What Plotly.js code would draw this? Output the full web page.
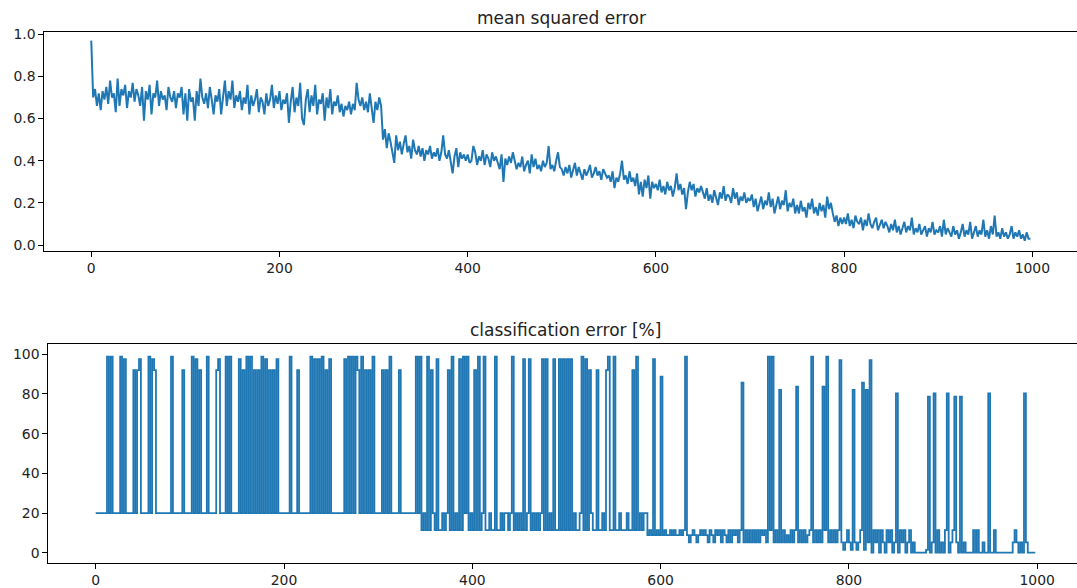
<!DOCTYPE html>
<html><head><meta charset="utf-8">
<script src="https://cdn.plot.ly/plotly-3.0.1.min.js"></script>
<style>html,body{margin:0;padding:0;background:#fff;}#chart{width:1077px;height:588px;}</style>
</head><body><div id="chart"></div>
<script>
// iteration index of first sample and spacing between samples
const stepStart = 0;
const stepSize = 2;

// mean squared error, one value every 2 iterations (0..998)
const mseValues = [
  0.97,0.70,0.74,0.66,0.72,0.64,0.73,0.69,0.75,0.67,0.78,0.70,0.72,0.63,0.79,0.66,0.74,0.71,0.76,0.65,0.73,0.70,0.77,0.68,0.74,
  0.71,0.66,0.75,0.59,0.73,0.69,0.76,0.62,0.72,0.70,0.78,0.66,0.73,0.69,0.71,0.64,0.75,0.70,0.68,0.73,0.65,0.72,0.70,0.75,0.62,
  0.72,0.59,0.74,0.68,0.70,0.59,0.73,0.66,0.79,0.70,0.67,0.72,0.65,0.75,0.69,0.62,0.71,0.68,0.74,0.62,0.70,0.78,0.66,0.73,0.69,
  0.78,0.65,0.71,0.68,0.73,0.64,0.70,0.67,0.76,0.62,0.71,0.66,0.69,0.74,0.63,0.70,0.68,0.62,0.72,0.66,0.69,0.76,0.65,0.71,0.67,
  0.73,0.64,0.69,0.67,0.72,0.58,0.68,0.75,0.63,0.70,0.66,0.77,0.60,0.57,0.69,0.74,0.63,0.71,0.66,0.76,0.62,0.69,0.67,0.72,0.59,
  0.70,0.65,0.74,0.62,0.68,0.66,0.71,0.63,0.67,0.61,0.66,0.64,0.68,0.62,0.67,0.64,0.77,0.69,0.66,0.70,0.64,0.68,0.63,0.72,0.66,
  0.58,0.68,0.64,0.70,0.66,0.50,0.55,0.46,0.53,0.49,0.44,0.39,0.52,0.45,0.49,0.43,0.48,0.52,0.44,0.47,0.41,0.50,0.45,0.43,0.47,
  0.42,0.46,0.40,0.45,0.43,0.47,0.41,0.44,0.42,0.46,0.40,0.44,0.52,0.43,0.41,0.45,0.39,0.34,0.42,0.46,0.37,0.44,0.41,0.43,0.40,
  0.43,0.39,0.40,0.47,0.44,0.38,0.42,0.40,0.45,0.38,0.43,0.41,0.37,0.44,0.40,0.42,0.39,0.36,0.43,0.30,0.41,0.38,0.42,0.39,0.44,
  0.40,0.36,0.39,0.37,0.42,0.35,0.38,0.40,0.34,0.43,0.37,0.41,0.36,0.38,0.35,0.40,0.37,0.39,0.47,0.36,0.38,0.35,0.40,0.44,0.37,
  0.36,0.33,0.37,0.34,0.38,0.32,0.35,0.39,0.33,0.37,0.34,0.31,0.36,0.33,0.35,0.38,0.32,0.34,0.37,0.33,0.35,0.31,0.36,0.34,0.32,
  0.33,0.30,0.35,0.27,0.32,0.30,0.34,0.40,0.31,0.33,0.29,0.35,0.30,0.32,0.28,0.34,0.24,0.30,0.23,0.31,0.27,0.33,0.22,0.30,0.27,
  0.29,0.26,0.31,0.25,0.28,0.24,0.30,0.26,0.28,0.23,0.27,0.34,0.26,0.29,0.24,0.27,0.17,0.25,0.30,0.26,0.29,0.23,0.27,0.25,0.28,
  0.25,0.22,0.27,0.21,0.24,0.20,0.26,0.23,0.19,0.25,0.22,0.28,0.21,0.24,0.23,0.20,0.27,0.22,0.25,0.19,0.23,0.21,0.25,0.20,0.22,
  0.21,0.24,0.18,0.22,0.16,0.20,0.23,0.17,0.21,0.19,0.25,0.18,0.22,0.15,0.20,0.23,0.17,0.21,0.19,0.26,0.16,0.20,0.18,0.22,0.15,
  0.19,0.15,0.21,0.16,0.18,0.13,0.20,0.17,0.22,0.15,0.18,0.14,0.20,0.16,0.19,0.13,0.23,0.17,0.20,0.15,0.11,0.14,0.09,0.13,0.10,
  0.13,0.10,0.15,0.09,0.12,0.08,0.14,0.11,0.10,0.13,0.07,0.12,0.09,0.15,0.10,0.08,0.11,0.13,0.07,0.10,0.12,0.08,0.11,0.09,0.06,
  0.10,0.07,0.12,0.06,0.09,0.05,0.08,0.11,0.06,0.09,0.07,0.13,0.05,0.08,0.06,0.10,0.05,0.07,0.09,0.04,0.08,0.06,0.11,0.05,0.07,
  0.06,0.09,0.04,0.12,0.05,0.08,0.06,0.04,0.09,0.05,0.07,0.03,0.06,0.10,0.04,0.07,0.05,0.11,0.03,0.06,0.09,0.04,0.07,0.05,0.12,
  0.04,0.07,0.03,0.09,0.05,0.14,0.04,0.06,0.03,0.08,0.04,0.06,0.03,0.05,0.09,0.03,0.06,0.04,0.07,0.03,0.05,0.02,0.06,0.03,0.03
];

// classification error [%], one value every 2 iterations (0..998)
const clsValues = [
  20,20,20,20,20,20,98.8,20,98.8,20,20,20,20,98.8,20,97.5,20,20,20,20,92,20,92,97.5,20,
  20,20,20,98.8,20,97.5,92,20,20,20,20,20,20,20,20,98.8,20,20,20,20,20,92,20,20,20,
  20,98.8,20,97.5,20,92,20,20,20,98.8,20,20,20,20,92,97.5,20,20,20,98.8,20,98.8,20,20,20,
  20,97.5,20,92,20,98.8,20,98.8,20,92,20,92,20,98.8,20,97.5,20,92,20,92,20,97.5,20,20,20,
  20,20,20,98.8,20,20,20,92,20,20,20,20,20,20,98.8,20,97.5,20,97.5,20,98.8,20,92,20,97.5,
  20,20,20,20,20,20,20,97.5,20,98.8,20,98.8,20,98.8,92,20,98.8,20,92,20,92,20,98.8,20,20,
  20,20,92,20,92,20,98.8,20,20,20,20,92,20,20,20,20,20,20,20,20,98.8,20,98.8,11.4,20,
  11.4,98.8,11.4,92,20,11.4,97.5,11.4,11.4,20,11.4,20,92,11.4,98.8,11.4,20,11.4,97.5,11.4,98.8,20,98.8,11.4,20,
  11.4,92,11.4,98.8,11.4,20,98.8,11.4,11.4,20,11.4,11.4,98.8,11.4,11.4,20,11.4,20,20,11.4,20,98.8,11.4,20,11.4,
  20,11.4,97.5,11.4,20,97.5,11.4,20,11.4,20,11.4,20,97.5,11.4,97.5,11.4,20,11.4,97.5,11.4,11.4,97.5,11.4,97.5,11.4,
  97.5,11.4,97.5,11.4,20,11.4,11.4,20,98.8,11.4,97.5,11.4,92,20,11.4,11.4,92,11.4,11.4,20,11.4,92,98.8,11.4,11.4,
  98.8,11.4,11.4,20,11.4,11.4,11.4,20,11.4,11.4,92,11.4,98.8,11.4,20,11.4,20,20,8.9,11.4,8.9,97.5,8.9,11.4,8.9,
  88.7,8.9,11.4,8.9,8.9,11.4,8.9,11.4,8.9,8.9,11.4,8.9,11.4,98.8,8.9,5.2,8.9,11.4,8.9,5.2,8.9,11.4,8.9,11.4,8.9,
  5.2,11.4,8.9,5.2,11.4,8.9,11.4,5.2,11.4,8.9,5.2,11.4,5.2,11.4,8.9,11.4,5.2,11.4,85.7,5.2,11.4,5.2,11.4,5.2,11.4,
  5.2,11.4,5.2,11.4,8.9,11.4,5.2,98.8,11.4,98.8,5.2,11.4,5.2,82,5.2,11.4,5.2,8.9,5.2,11.4,5.2,11.4,83.7,5.2,11.4,
  5.2,11.4,5.2,8.9,11.4,98.8,5.2,11.4,5.2,11.4,5.2,83.7,11.4,98.8,5.2,11.4,5.2,11.4,5.2,11.4,97.1,5.2,1.4,5.2,11.4,
  5.2,1.4,82,5.2,1.4,5.2,11.4,85.7,1.4,82,5.2,97.1,0,11.4,5.2,11.4,0,11.4,5.2,0,11.4,5.2,11.4,0,5.2,
  80.3,0,11.4,5.2,11.4,0,5.2,11.4,0,5.2,0,0,0,0,0,0,1.4,78.6,0,5.2,80.3,0,11.4,0,5.2,
  0,11.4,80.3,0,5.2,11.4,78.6,5.2,0,78.6,0,5.2,0,0,0,0,11.4,0,11.4,0,0,5.2,0,0,80.3,
  0,0,11.4,0,0,0,0,0,0,0,0,0,5.2,11.4,5.2,0,5.2,0,80.3,5.2,0,0,0,0,0
];

const xTickVals = [0, 200, 400, 600, 800, 1000];
const mseTickVals = [0.0, 0.2, 0.4, 0.6, 0.8, 1.0];
const clsTickVals = [0, 20, 40, 60, 80, 100];
const panelTitles = ['mean squared error', 'classification error [%]'];

const lineColor = '#1f77b4';
const tickFont = {family: 'DejaVu Sans', size: 13.9, color: '#222'};
const axisCommon = {
  showgrid: false, zeroline: false, showline: true, linecolor: '#000', linewidth: 1,
  ticks: 'outside', ticklen: 5, tickwidth: 1, tickcolor: '#000', tickfont: tickFont, fixedrange: true
};

const traces = [
  {type: 'scatter', mode: 'lines', x0: stepStart, dx: stepSize, y: mseValues,
   xaxis: 'x', yaxis: 'y', line: {color: lineColor, width: 2}, hoverinfo: 'skip'},
  {type: 'scatter', mode: 'lines', x0: stepStart, dx: stepSize, y: clsValues,
   xaxis: 'x2', yaxis: 'y2', line: {color: lineColor, width: 1.8, shape: 'hv'}, hoverinfo: 'skip'}
];

const layout = {
  width: 1077, height: 588,
  margin: {l: 0, r: 0, t: 0, b: 0},
  paper_bgcolor: '#fff', plot_bgcolor: '#fff', showlegend: false,
  xaxis: Object.assign({}, axisCommon, {domain: [0.0411, 1], range: [-49.95, 1047.5], tickvals: xTickVals, mirror: true, anchor: 'y'}),
  yaxis: Object.assign({}, axisCommon, {domain: [0.5736, 0.9461], range: [-0.027, 1.0123], tickvals: mseTickVals, tickformat: '.1f', anchor: 'x'}),
  xaxis2: Object.assign({}, axisCommon, {domain: [0.04485, 1], range: [-50.35, 1042.3], tickvals: xTickVals, mirror: true, anchor: 'y2'}),
  yaxis2: Object.assign({}, axisCommon, {domain: [0.043, 0.4155], range: [-5.04, 105.34], tickvals: clsTickVals, anchor: 'x2'}),
  annotations: [
    {text: panelTitles[0], xref: 'paper', yref: 'paper', x: 0.5209, y: 0.9694, xanchor: 'center', yanchor: 'middle',
     showarrow: false, font: {family: 'DejaVu Sans', size: 17, color: '#222'}},
    {text: panelTitles[1], xref: 'paper', yref: 'paper', x: 0.5254, y: 0.4388, xanchor: 'center', yanchor: 'middle',
     showarrow: false, font: {family: 'DejaVu Sans', size: 17, color: '#222'}}
  ]
};

Plotly.newPlot('chart', traces, layout, {staticPlot: true, displayModeBar: false});
</script>
</body></html>
